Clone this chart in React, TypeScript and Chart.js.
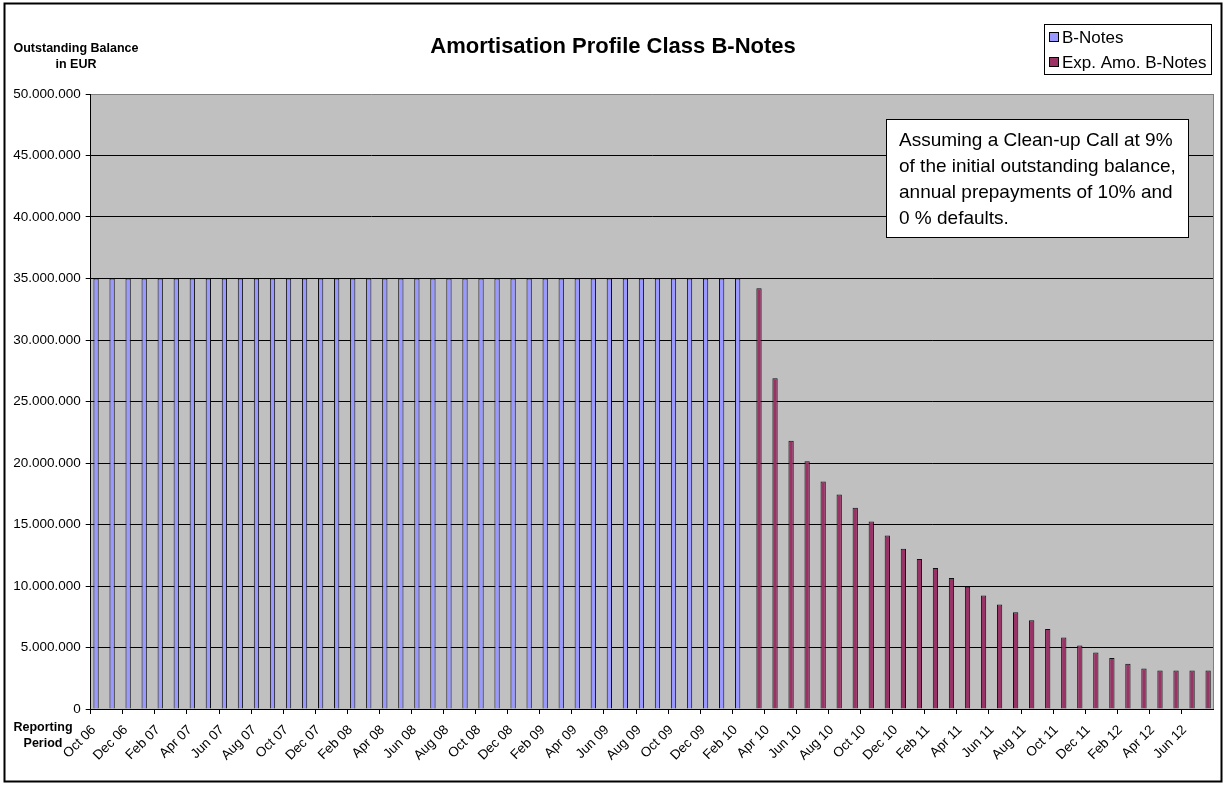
import React, { useEffect, useRef } from 'react';
import { Chart, registerables } from 'chart.js';

Chart.register(...registerables);

const FONT = '"Liberation Sans", Arial, Helvetica, sans-serif';

const chartTitle = 'Amortisation Profile Class B-Notes';
const yTitleLines = ['Outstanding Balance', 'in EUR'];
const xTitleLines = ['Reporting', 'Period'];
const noteLines = [
  'Assuming a Clean-up Call at 9%',
  'of the initial outstanding balance,',
  'annual prepayments of 10% and',
  '0 % defaults.',
];

const periods = [
  'Oct 06', 'Nov 06', 'Dec 06',
  'Jan 07', 'Feb 07', 'Mar 07', 'Apr 07', 'May 07', 'Jun 07', 'Jul 07', 'Aug 07', 'Sep 07', 'Oct 07', 'Nov 07', 'Dec 07',
  'Jan 08', 'Feb 08', 'Mar 08', 'Apr 08', 'May 08', 'Jun 08', 'Jul 08', 'Aug 08', 'Sep 08', 'Oct 08', 'Nov 08', 'Dec 08',
  'Jan 09', 'Feb 09', 'Mar 09', 'Apr 09', 'May 09', 'Jun 09', 'Jul 09', 'Aug 09', 'Sep 09', 'Oct 09', 'Nov 09', 'Dec 09',
  'Jan 10', 'Feb 10', 'Mar 10', 'Apr 10', 'May 10', 'Jun 10', 'Jul 10', 'Aug 10', 'Sep 10', 'Oct 10', 'Nov 10', 'Dec 10',
  'Jan 11', 'Feb 11', 'Mar 11', 'Apr 11', 'May 11', 'Jun 11', 'Jul 11', 'Aug 11', 'Sep 11', 'Oct 11', 'Nov 11', 'Dec 11',
  'Jan 12', 'Feb 12', 'Mar 12', 'Apr 12', 'May 12', 'Jun 12', 'Jul 12',
];

const shownTickLabels = [
  'Oct 06', 'Dec 06', 'Feb 07', 'Apr 07', 'Jun 07', 'Aug 07', 'Oct 07', 'Dec 07',
  'Feb 08', 'Apr 08', 'Jun 08', 'Aug 08', 'Oct 08', 'Dec 08',
  'Feb 09', 'Apr 09', 'Jun 09', 'Aug 09', 'Oct 09', 'Dec 09',
  'Feb 10', 'Apr 10', 'Jun 10', 'Aug 10', 'Oct 10', 'Dec 10',
  'Feb 11', 'Apr 11', 'Jun 11', 'Aug 11', 'Oct 11', 'Dec 11',
  'Feb 12', 'Apr 12', 'Jun 12',
];

const bNotes = [
  35000000, 35000000, 35000000,
  35000000, 35000000, 35000000, 35000000, 35000000, 35000000, 35000000, 35000000, 35000000, 35000000, 35000000, 35000000,
  35000000, 35000000, 35000000, 35000000, 35000000, 35000000, 35000000, 35000000, 35000000, 35000000, 35000000, 35000000,
  35000000, 35000000, 35000000, 35000000, 35000000, 35000000, 35000000, 35000000, 35000000, 35000000, 35000000, 35000000,
  35000000, 35000000, null, null, null, null, null, null, null, null, null, null,
  null, null, null, null, null, null, null, null, null, null, null, null,
  null, null, null, null, null, null, null,
];

const expAmoBNotes = [
  null, null, null,
  null, null, null, null, null, null, null, null, null, null, null, null,
  null, null, null, null, null, null, null, null, null, null, null, null,
  null, null, null, null, null, null, null, null, null, null, null, null,
  null, null, 34200000, 26900000, 21800000, 20150000, 18500000, 17440000, 16360000, 15240000, 14100000, 13020000,
  12200000, 11470000, 10660000, 9930000, 9220000, 8490000, 7860000, 7210000, 6500000, 5820000, 5170000, 4600000,
  4140000, 3680000, 3300000, 3120000, 3120000, 3120000, 3120000,
];

const seriesNames = ['B-Notes', 'Exp. Amo. B-Notes'];
const seriesColors = ['#9999FF', '#993366'];

const yMax = 50000000;
const yStep = 5000000;

const fmt = (v: number) => String(Math.round(v)).replace(/\B(?=(\d{3})+(?!\d))/g, '.');

const decor = {
  id: 'decor',
  beforeDraw(chart: any) {
    const { ctx, chartArea: a } = chart;
    ctx.save();
    ctx.fillStyle = '#ffffff';
    ctx.fillRect(0, 0, chart.width, chart.height);
    ctx.fillStyle = '#C0C0C0';
    ctx.fillRect(a.left, a.top, a.right - a.left, a.bottom - a.top);
    ctx.restore();
  },
  afterDraw(chart: any) {
    const { ctx, chartArea: a } = chart;
    ctx.save();
    // right plot border
    ctx.strokeStyle = '#808080';
    ctx.lineWidth = 1;
    const rx = Math.round(a.right) + 0.5;
    ctx.beginPath();
    ctx.moveTo(rx, a.top);
    ctx.lineTo(rx, a.bottom);
    ctx.stroke();

    // outer frame
    ctx.strokeStyle = '#000';
    ctx.lineWidth = 2;
    ctx.strokeRect(4.5, 3.5, 1217, 778);

    ctx.fillStyle = '#000';
    ctx.textAlign = 'center';
    ctx.textBaseline = 'middle';
    ctx.font = `bold 22px ${FONT}`;
    ctx.fillText(chartTitle, 613, 47);

    ctx.font = `bold 12.5px ${FONT}`;
    ctx.fillText(yTitleLines[0], 76, 49);
    ctx.fillText(yTitleLines[1], 76, 65);
    ctx.fillText(xTitleLines[0], 43, 728);
    ctx.fillText(xTitleLines[1], 43, 744);

    // legend
    ctx.fillStyle = '#fff';
    ctx.fillRect(1044.5, 24.5, 167, 50);
    ctx.strokeStyle = '#000';
    ctx.lineWidth = 1;
    ctx.strokeRect(1044.5, 24.5, 167, 50);
    ctx.font = `17px ${FONT}`;
    ctx.textAlign = 'left';
    const ly = [37, 62];
    chart.data.datasets.forEach((ds: any, i: number) => {
      ctx.fillStyle = ds.backgroundColor;
      ctx.fillRect(1049.5, ly[i] - 4.5, 9, 9);
      ctx.strokeRect(1049.5, ly[i] - 4.5, 9, 9);
      ctx.fillStyle = '#000';
      ctx.fillText(ds.label, 1062, ly[i] + 1);
    });

    // note box
    ctx.fillStyle = '#fff';
    ctx.fillRect(886.5, 119.5, 302, 118);
    ctx.strokeStyle = '#000';
    ctx.strokeRect(886.5, 119.5, 302, 118);
    ctx.fillStyle = '#000';
    ctx.font = `19px ${FONT}`;
    const ny = [141, 167, 193, 219];
    noteLines.forEach((t, i) => ctx.fillText(t, 899, ny[i]));
    ctx.restore();
  },
};

export default function App() {
  const ref = useRef<HTMLCanvasElement | null>(null);
  useEffect(() => {
    const canvas = ref.current;
    if (!canvas) return;
    const chart = new Chart(canvas, {
      type: 'bar',
      data: {
        labels: periods,
        datasets: [
          {
            label: seriesNames[0],
            data: bNotes,
            backgroundColor: seriesColors[0],
            borderColor: '#111',
            borderWidth: 1,
          },
          {
            label: seriesNames[1],
            data: expAmoBNotes,
            backgroundColor: seriesColors[1],
            borderColor: '#111',
            borderWidth: 1,
          },
        ],
      },
      options: {
        responsive: false,
        animation: false,
        events: [],
        layout: { padding: { left: 0, right: 10, top: 94, bottom: 0 } },
        datasets: { bar: { categoryPercentage: 0.66, barPercentage: 1 } },
        plugins: { legend: { display: false }, title: { display: false }, tooltip: { enabled: false } },
        scales: {
          x: {
            offset: true,
            grid: {
              offset: true,
              drawOnChartArea: false,
              drawTicks: true,
              tickLength: 5,
              tickColor: (c: any) => (c.index % 2 === 0 ? '#000' : 'rgba(0,0,0,0)'),
              color: 'rgba(0,0,0,0)',
            },
            border: { color: '#000', width: 1 },
            ticks: {
              autoSkip: false,
              minRotation: 45,
              maxRotation: 45,
              padding: 8,
              labelOffset: -5,
              color: '#000',
              font: { family: FONT, size: 13.5 },
              callback: (_v: any, i: number) => (shownTickLabels.includes(periods[i]) ? periods[i] : ''),
            },
            afterFit: (s: any) => { s.height = 78; },
          },
          y: {
            min: 0,
            max: yMax,
            ticks: {
              stepSize: yStep,
              padding: 5,
              color: '#000',
              font: { family: FONT, size: 13.5 },
              callback: (v: any) => fmt(Number(v)),
            },
            grid: {
              color: (c: any) => (c.tick && c.tick.value === yMax ? '#808080' : '#000'),
              tickColor: '#000',
              tickLength: 5,
              lineWidth: 1,
            },
            border: { color: '#000', width: 1 },
            afterFit: (s: any) => { s.width = 90.7; },
          },
        },
      },
      plugins: [decor],
    });
    return () => chart.destroy();
  }, []);
  return (
    <div style={{ position: 'fixed', left: 0, top: 0, width: 1225, height: 787, background: '#fff' }}>
      <canvas ref={ref} width={1225} height={787} style={{ display: 'block', width: 1225, height: 787 }} />
    </div>
  );
}
